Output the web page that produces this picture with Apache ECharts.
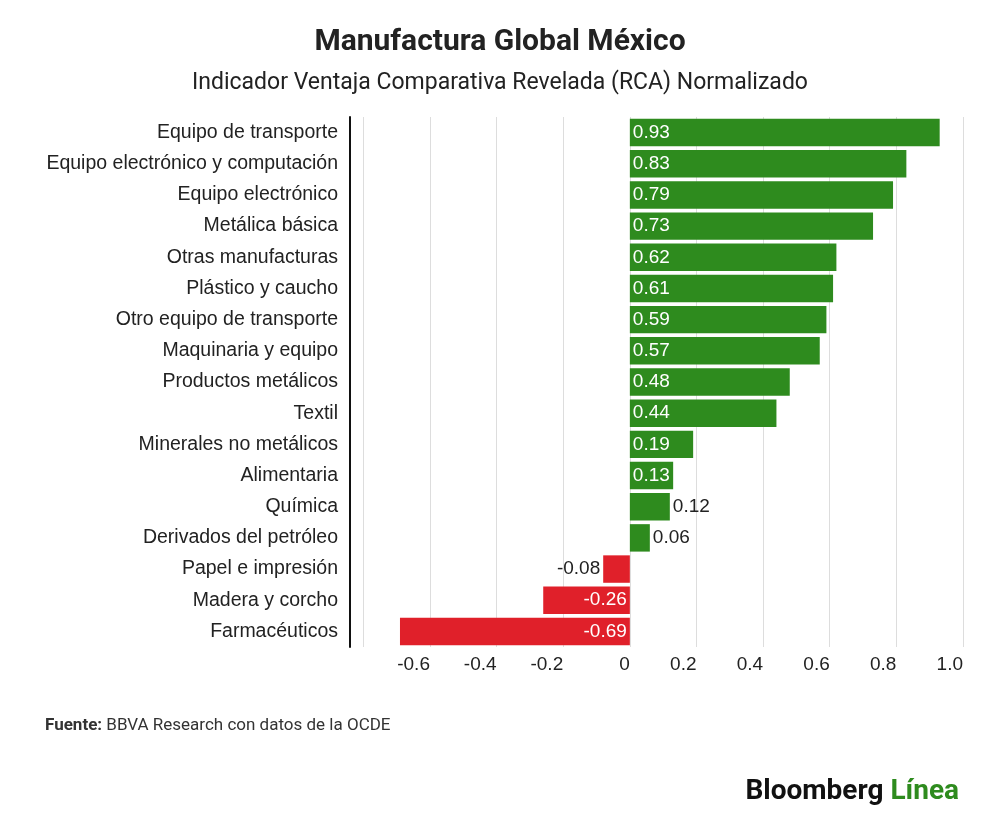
<!DOCTYPE html>
<html>
<head>
<meta charset="utf-8">
<title>Manufactura Global México</title>
<script src="https://cdn.jsdelivr.net/npm/echarts@6/dist/echarts.min.js"></script>
<style>
  body { margin: 0; background: #fff; font-family: Roboto, sans-serif; }
  #chart { width: 1000px; height: 825px; }
</style>
</head>
<body>
<div id="chart"></div>
<script>
// datos (de arriba hacia abajo)
var categories = ['Equipo de transporte', 'Equipo electrónico y computación', 'Equipo electrónico',
  'Metálica básica', 'Otras manufacturas', 'Plástico y caucho', 'Otro equipo de transporte',
  'Maquinaria y equipo', 'Productos metálicos', 'Textil', 'Minerales no metálicos', 'Alimentaria',
  'Química', 'Derivados del petróleo', 'Papel e impresión', 'Madera y corcho', 'Farmacéuticos'];
var values = [0.93, 0.83, 0.79, 0.73, 0.62, 0.61, 0.59, 0.57, 0.48, 0.44, 0.19, 0.13, 0.12, 0.06, -0.08, -0.26, -0.69];
var tickValues = [-0.6, -0.4, -0.2, 0, 0.2, 0.4, 0.6, 0.8, 1.0];
var gridValues = [-0.8, -0.6, -0.4, -0.2, 0, 0.2, 0.4, 0.6, 0.8, 1.0];

var chart = echarts.init(document.getElementById('chart'));

var data = values.map(function (v) {
  var small = Math.abs(v) < 0.125;
  return {
    value: v,
    itemStyle: { color: v >= 0 ? '#2e8b1e' : '#e0202a' },
    label: {
      show: true,
      position: v >= 0 ? (small ? 'right' : 'insideLeft') : (small ? 'left' : 'insideRight'),
      color: small ? '#222' : '#fff',
      fontSize: 19,
      distance: 3,
      formatter: function (p) { return p.value.toFixed(2); }
    }
  };
});

chart.setOption({
  title: [
    { text: 'Manufactura Global México', left: 'center', top: 22,
      textStyle: { fontSize: 30, fontWeight: 'bold', color: '#222', fontFamily: 'Roboto' } },
    { text: 'Indicador Ventaja Comparativa Revelada (RCA) Normalizado', left: 'center', top: 67,
      textStyle: { fontSize: 23, fontWeight: 'normal', color: '#222', fontFamily: 'Roboto' } },
    { text: '{b|Fuente:} BBVA Research con datos de la OCDE', left: 40, top: 712,
      textStyle: { fontSize: 17, fontWeight: 'normal', color: '#333', fontFamily: 'Roboto',
        rich: { b: { fontWeight: 'bold', fontSize: 17, color: '#333' } } } },
    { text: 'Bloomberg {l|Línea}', right: 36, top: 773,
      textStyle: { fontSize: 28, fontWeight: 'bold', color: '#111', fontFamily: 'Roboto',
        rich: { l: { fontSize: 28, fontWeight: 'bold', color: '#2e8b1e' } } } }
  ],
  grid: { left: 350, right: 37, top: 117, bottom: 178 },
  xAxis: {
    type: 'value', min: -0.84, max: 1.0,
    axisLine: { show: false },
    axisTick: { show: false, customValues: gridValues },
    splitLine: { show: true, lineStyle: { color: '#ddd' } },
    axisLabel: {
      fontSize: 19, color: '#222', margin: 8, align: 'right',
      customValues: tickValues,
      formatter: function (v) { return v === 0 ? '0' : v.toFixed(1); }
    }
  },
  yAxis: {
    type: 'category', inverse: true, data: categories,
    axisLine: { show: true, onZero: false, lineStyle: { color: '#111', width: 2 } },
    axisTick: { show: false },
    axisLabel: { fontSize: 19.5, color: '#222', margin: 12 }
  },
  series: [{
    type: 'bar', data: data, barCategoryGap: '12%', animation: false
  }]
});
</script>
</body>
</html>
